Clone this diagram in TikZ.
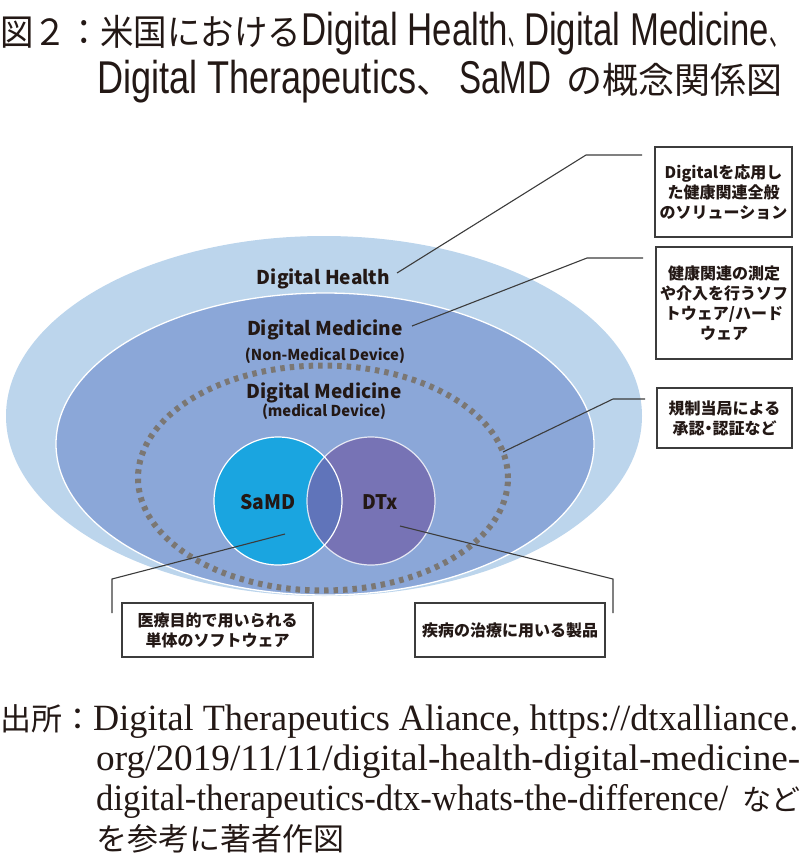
\documentclass[tikz,border=0pt]{standalone}
\usepackage{fontspec}
\usepackage{graphicx}
\newfontfamily\jp{Noto Sans CJK JP}
\newfontfamily\lser{Liberation Serif}
\newfontfamily\lsans{Liberation Sans}
\newcommand{\fw}[2]{\resizebox{#1}{\height}{#2}}
\newcommand{\tl}[2]{\resizebox{#1}{\height}{\lsans\fontsize{46}{46}\selectfont #2}}
\definecolor{outerc}{HTML}{BCD5EC}
\definecolor{medc}{HTML}{8BA7D8}
\definecolor{samdc}{HTML}{1AA5E0}
\definecolor{dtxc}{HTML}{7773B5}
\definecolor{ovc}{HTML}{6074BA}
\definecolor{dotc}{HTML}{7B7773}
\definecolor{leadc}{HTML}{3C3C3C}
\definecolor{textc}{HTML}{231815}
\tikzset{
  lbl/.style={inner sep=0pt, anchor=base, text=textc, font=\jp\bfseries},
  note/.style={draw=leadc, line width=1.3pt, fill=white, align=center, inner sep=0pt,
    text=textc, font={\jp\bfseries\fontsize{16}{20}\selectfont}},
  leader/.style={draw=leadc, line width=1.1pt},
  plain/.style={inner sep=0pt, anchor=base west, text=textc}
}
\begin{document}
\begin{tikzpicture}[x=1pt,y=-1pt]
\useasboundingbox (0,0) rectangle (800,857);
% title
\node[plain] (t1) at (0,45) {\jp\fontsize{36}{36}\selectfont\fw{301pt}{図２：米国における}\tl{207pt}{Digital Health}\fw{16pt}{、}\tl{245pt}{Digital Medicine}\fw{20pt}{、}};
\node[plain] (t2) at (97,93) {\jp\fontsize{36}{36}\selectfont\tl{319pt}{Digital Therapeutics}\makebox[43pt][l]{、}\tl{92pt}{SaMD}\hspace{15pt}の概念関係図};
% ellipses
\fill[outerc] (324,416) ellipse [x radius=318pt, y radius=180pt];
\filldraw[fill=medc, draw=white, line width=1.3pt] (325,444) ellipse [x radius=269pt, y radius=151pt];
\draw[dotc, line width=6pt, dash pattern=on 4.5pt off 5pt] (323,478) ellipse [x radius=185pt, y radius=112.5pt];
% circles
\fill[samdc] (278,501) circle [radius=64pt];
\fill[dtxc] (371,501) circle [radius=64pt];
\begin{scope}
  \clip (278,501) circle [radius=64pt];
  \fill[ovc] (371,501) circle [radius=64pt];
\end{scope}
\draw[white, line width=1.2pt] (278,501) circle [radius=64pt];
\draw[white, line width=1.2pt, draw opacity=0.8] (371,501) circle [radius=64pt];
% labels
\node[lbl] (dh) at (323.5,284) {\fontsize{19}{19}\selectfont\fw{133pt}{Digital Health}};
\node[lbl] (dm1) at (325,335) {\fontsize{19}{19}\selectfont\fw{156pt}{Digital Medicine}};
\node[lbl] (nmd) at (325,360) {\fontsize{15}{15}\selectfont\fw{160pt}{(Non-Medical Device)}};
\node[lbl] (dm2) at (324,398) {\fontsize{19}{19}\selectfont\fw{155pt}{Digital Medicine}};
\node[lbl] (md) at (324,416) {\fontsize{15}{15}\selectfont\fw{124pt}{(medical Device)}};
\node[lbl] (samd) at (268,509) {\fontsize{20}{20}\selectfont\fw{55pt}{SaMD}};
\node[lbl] (dtx) at (380,509) {\fontsize{20}{20}\selectfont\fw{36pt}{DTx}};
% notes
\node[note, minimum width=137pt, minimum height=90pt] (n1) at (723.5,192) {Digitalを応用し\\た健康関連全般\\のソリューション};
\node[note, minimum width=136pt, minimum height=112pt] (n2) at (724,303) {健康関連の測定\\や介入を行うソフ\\トウェア/ハード\\ウェア};
\node[note, minimum width=135pt, minimum height=60pt] (n3) at (724.5,418) {規制当局による\\承認\makebox[8pt]{・}認証など};
\node[note, minimum width=191pt, minimum height=54pt] (n4) at (217.5,630) {医療目的で用いられる\\単体のソフトウェア};
\node[note, minimum width=190pt, minimum height=54pt] (n5) at (510,630) {疾病の治療に用いる製品};
% leader coordinates
\coordinate (a1) at (397,273); \coordinate (b1) at (586,155); \coordinate (c1) at (642,155);
\coordinate (a2) at (412,326); \coordinate (b2) at (587,258); \coordinate (c2) at (643,258);
\coordinate (a3) at (503,452); \coordinate (b3) at (613,399); \coordinate (c3) at (645,399);
\coordinate (a4) at (285,534); \coordinate (b4) at (112,579); \coordinate (c4) at (112,613);
\coordinate (a5) at (400,526); \coordinate (b5) at (613,579); \coordinate (c5) at (613,613);
\draw[leader] (a1) -- (b1) -- (c1);
\draw[leader] (a2) -- (b2) -- (c2);
\draw[leader] (a3) -- (b3) -- (c3);
\draw[leader] (a4) -- (b4) -- (c4);
\draw[leader] (a5) -- (b5) -- (c5);
% source
\node[plain] (s1) at (0,730) {\jp\fontsize{31}{31}\selectfont 出所：\fw{705pt}{\lser\fontsize{37}{37}\selectfont Digital Therapeutics Aliance, https://dtxalliance.}};
\node[plain] (s2) at (96,770) {\fw{704pt}{\lser\fontsize{37}{37}\selectfont org/2019/11/11/digital-health-digital-medicine-}};
\node[plain] (s3) at (96,810) {\fw{632pt}{\lser\fontsize{37}{37}\selectfont digital-therapeutics-dtx-whats-the-difference/}\hspace{14pt}{\jp\fontsize{29}{29}\selectfont\makebox[29pt][l]{な}\makebox[29pt][l]{ど}}};
\node[plain] (s4) at (96,850) {\jp\fontsize{31}{31}\selectfont を参考に著者作図};
\end{tikzpicture}
\end{document}
